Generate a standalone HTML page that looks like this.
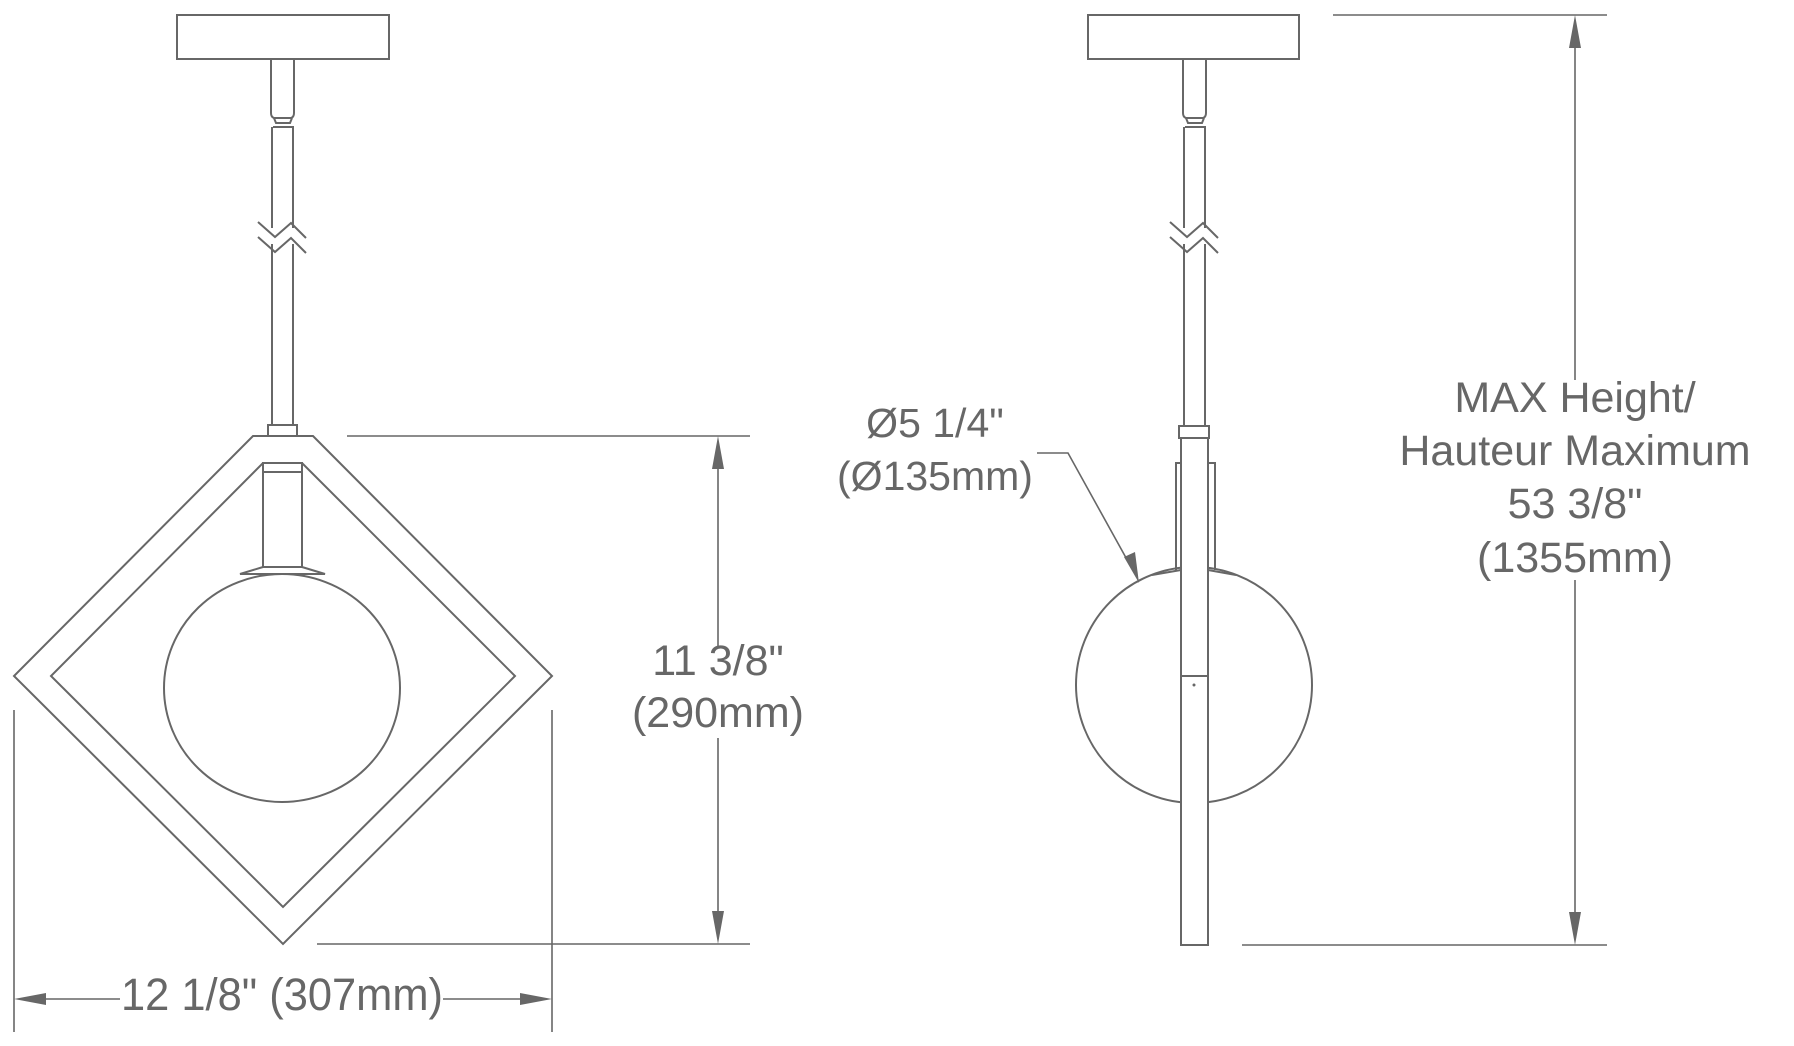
<!DOCTYPE html>
<html><head><meta charset="utf-8"><style>html,body{margin:0;padding:0;background:#fff}svg{display:block}</style></head>
<body>
<svg width="1794" height="1046" viewBox="0 0 1794 1046" xmlns="http://www.w3.org/2000/svg">
<g fill="none" stroke="#676767" stroke-width="2">
<!-- LEFT VIEW -->
<rect x="177" y="15" width="212" height="44"/>
<path d="M271 59 V113 Q271 117 274 118 H291 Q294 117 294 113 V59"/>
<path d="M274 118 L276 123 H290 L292 118 M273 127 H294"/>
<path d="M272 127 V228 M293 127 V228 M272 244 V425 M293 244 V425"/>
<path d="M258 222 L275 237 L291 223 L306 238 M258 237 L275 252 L291 238 L306 253"/>
<rect x="268" y="425" width="29" height="11"/>
<path d="M253 436 H313 L552 676 L283 944 L14 676 Z"/>
<path d="M263 463 H302 L515 676 L283 907 L51 676 Z"/>
<rect x="263" y="463" width="39" height="104"/>
<path d="M263 472 H302"/>
<path d="M263 567 L240 574 H325 L302 567"/>
<ellipse cx="282" cy="688" rx="118" ry="114"/>
<!-- RIGHT VIEW -->
<rect x="1088" y="15" width="211" height="44"/>
<path d="M1183 59 V113 Q1183 117 1186 118 H1203 Q1206 117 1206 113 V59"/>
<path d="M1186 118 L1188 123 H1202 L1204 118 M1185 127 H1206"/>
<path d="M1184 127 V228 M1205 127 V228 M1184 244 V426 M1205 244 V426"/>
<path d="M1170 222 L1187 237 L1203 223 L1218 238 M1170 237 L1187 252 L1203 238 L1218 253"/>
<rect x="1179" y="426" width="30" height="12"/>
<path d="M1176 570 V463 H1181 M1215 570 V463 H1208"/>
<path d="M1181 570 L1152 575 M1208 570 L1236 575"/>
<circle cx="1194" cy="685" r="118"/>
<rect x="1181" y="438" width="27" height="507" fill="#fff"/>
<path d="M1181 676 H1208"/>
</g>
<circle cx="1194" cy="685" r="1.5" fill="#676767"/>
<!-- DIMENSIONS -->
<g fill="none" stroke="#676767" stroke-width="1.6">
<path d="M347 436 H750 M317 944 H750 M718 469 V647 M718 738 V911"/>
<path d="M14 710 V1032 M552 710 V1032 M46 999 H120 M443 999 H520"/>
<path d="M1333 15 H1607 M1242 945 H1607 M1575 48 V380 M1575 580 V912"/>
<path d="M1037 453 H1068 L1130 565"/>
</g>
<g fill="#676767">
<path d="M718 436 L712 469 H724 Z M718 944 L712 911 H724 Z"/>
<path d="M14 999 L46 993 V1005 Z M552 999 L520 993 V1005 Z"/>
<path d="M1575 15 L1569 48 H1581 Z M1575 945 L1569 912 H1581 Z"/>
<path d="M1139 583 L1124 557 L1135 552 Z"/>
</g>
<g fill="#676767" font-family="'Liberation Sans', Arial, sans-serif" text-anchor="middle">
<text x="718" y="675" font-size="43">11 3/8"</text>
<text x="718" y="727" font-size="43">(290mm)</text>
<text x="282" y="1010" font-size="45" textLength="322" lengthAdjust="spacingAndGlyphs">12 1/8" (307mm)</text>
<text x="935" y="437" font-size="41">Ø5 1/4"</text>
<text x="935" y="490" font-size="41">(Ø135mm)</text>
<text x="1575" y="412" font-size="43">MAX Height/</text>
<text x="1575" y="465" font-size="43">Hauteur Maximum</text>
<text x="1575" y="518" font-size="43">53 3/8"</text>
<text x="1575" y="572" font-size="43">(1355mm)</text>
</g>
</svg>
</body></html>
